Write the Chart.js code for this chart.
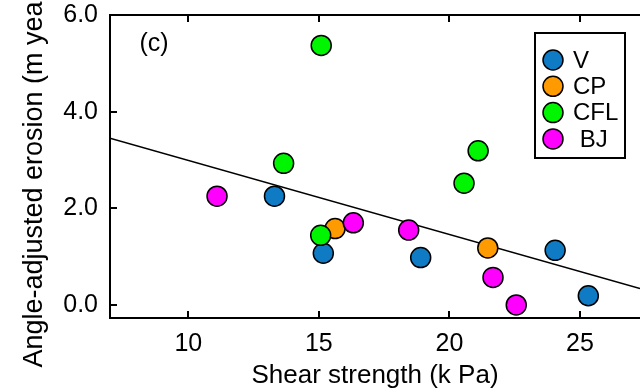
<!DOCTYPE html>
<html>
<head>
<meta charset="utf-8">
<script src="https://cdn.jsdelivr.net/npm/chart.js@4"></script>
<style>
  html, body { margin: 0; padding: 0; background: #fff; overflow: hidden; }
  #wrap { width: 640px; height: 392px; }
</style>
</head>
<body>
<div id="wrap"><canvas id="c" width="640" height="392"></canvas></div>
<script>
// data (shear strength kPa, erosion)
const seriesNames = ['V', 'CP', 'CFL', ' BJ']
const seriesColors = ['#0f7bc4', '#ff9a00', '#00f500', '#ff00ff']

const vX = [13.3, 15.17, 18.9, 24.05, 25.32]
const vY = [2.25, 1.07, 0.98, 1.13, 0.19]
const cpX = [15.62, 21.47]
const cpY = [1.58, 1.18]
const cflX = [15.09, 13.65, 15.07, 20.56, 21.1]
const cflY = [5.37, 2.93, 1.44, 2.52, 3.19]
const bjX = [11.1, 16.32, 18.44, 21.67, 22.56]
const bjY = [2.25, 1.70, 1.55, 0.57, 0.0]

// fitted line end points
const fitX = [7, 27.3]
const fitY = [3.45, 0.34]

const xTicks = [10, 15, 20, 25]
const yTicks = [0, 2, 4, 6]

const FONT = 'Liberation Sans, Arial, sans-serif'

function pts(xs, ys) {
    return xs.map((x, i) => ({ x: x, y: ys[i] }))
}

function noPad(s) {
    s.paddingLeft = 0
    s.paddingRight = 0
    s.paddingTop = 0
    s.paddingBottom = 0
}

const groups = [[vX, vY], [cpX, cpY], [cflX, cflY], [bjX, bjY]]
const drawOrder = [4, 3, 2, 1]

let datasets = groups.map((g, i) => ({
    type: 'scatter',
    label: seriesNames[i],
    data: pts(g[0], g[1]),
    backgroundColor: seriesColors[i],
    borderColor: '#000',
    borderWidth: 1.5,
    pointRadius: 10,
    order: drawOrder[i]
}))

datasets.push({
    type: 'line',
    label: 'fit',
    data: pts(fitX, fitY),
    borderColor: '#000',
    borderWidth: 1.6,
    pointRadius: 0,
    fill: false,
    order: 10
})

// inward tick marks, panel letter and boxed legend
const extras = {
    id: 'extras',
    afterDraw(chart) {
        const ctx = chart.ctx
        const a = chart.chartArea
        const xs = chart.scales.x
        const ys = chart.scales.y
        ctx.save()
        ctx.strokeStyle = '#000'
        ctx.lineWidth = 2
        ctx.beginPath()
        xTicks.forEach(v => {
            const px = Math.round(xs.getPixelForValue(v))
            ctx.moveTo(px, a.bottom)
            ctx.lineTo(px, a.bottom - 7)
            ctx.moveTo(px, a.top)
            ctx.lineTo(px, a.top + 7)
        })
        yTicks.forEach(v => {
            const py = Math.round(ys.getPixelForValue(v))
            ctx.moveTo(a.left, py)
            ctx.lineTo(a.left + 7, py)
        })
        ctx.stroke()

        ctx.fillStyle = '#000'
        ctx.font = '25px ' + FONT
        ctx.textAlign = 'center'
        ctx.textBaseline = 'middle'
        ctx.fillText('(c)', a.left + 44, a.top + 29)

        // legend box
        const bx = 535, by = 33, bw = 90, bh = 125
        ctx.lineWidth = 2
        ctx.strokeRect(bx, by, bw, bh)
        ctx.font = '24px ' + FONT
        ctx.textAlign = 'left'
        chart.data.datasets.forEach((ds, i) => {
            if (ds.type !== 'scatter') return
            const cy = by + 27 + i * 26.3
            ctx.beginPath()
            ctx.arc(bx + 18, cy, 10, 0, Math.PI * 2)
            ctx.fillStyle = ds.backgroundColor
            ctx.fill()
            ctx.lineWidth = 1.5
            ctx.stroke()
            ctx.fillStyle = '#000'
            ctx.fillText(ds.label, bx + 38, cy + 1)
        })
        ctx.restore()
    }
}

new Chart(document.getElementById('c'), {
    data: { datasets: datasets },
    options: {
        responsive: false,
        animation: false,
        layout: { autoPadding: false, padding: { left: 14, top: 15, right: 0, bottom: 0 } },
        plugins: { legend: { display: false }, tooltip: { enabled: false } },
        scales: {
            x: {
                type: 'linear',
                position: 'bottom',
                min: 7,
                max: 27.3,
                afterBuildTicks: s => { s.ticks = xTicks.map(v => ({ value: v })) },
                afterFit: s => { s.height = 74; noPad(s) },
                grid: { display: false, drawTicks: false },
                border: { display: true, color: '#000', width: 2 },
                ticks: { color: '#000', padding: 11, font: { family: FONT, size: 25 } },
                title: {
                    display: true,
                    text: 'Shear strength (k Pa)',
                    color: '#000',
                    padding: { top: 4, bottom: 1 },
                    font: { family: FONT, size: 26 }
                }
            },
            x2: {
                type: 'linear',
                position: 'top',
                min: 7,
                max: 27.3,
                afterFit: s => { s.height = 0; noPad(s) },
                grid: { display: false, drawTicks: false },
                border: { display: true, color: '#000', width: 2 },
                ticks: { display: false }
            },
            y: {
                type: 'linear',
                min: -0.27,
                max: 6.0,
                afterBuildTicks: s => { s.ticks = yTicks.map(v => ({ value: v })) },
                afterFit: s => { s.width = 96; noPad(s) },
                grid: { display: false, drawTicks: false },
                border: { display: true, color: '#000', width: 2 },
                ticks: {
                    color: '#000',
                    padding: 12,
                    font: { family: FONT, size: 25 },
                    callback: v => v.toFixed(1)
                },
                title: {
                    display: true,
                    text: 'Angle-adjusted erosion (m year\u207B\u00B9)',
                    color: '#000',
                    padding: { bottom: 4 },
                    font: { family: FONT, size: 27 }
                }
            }
        }
    },
    plugins: [extras]
})
</script>
</body>
</html>
